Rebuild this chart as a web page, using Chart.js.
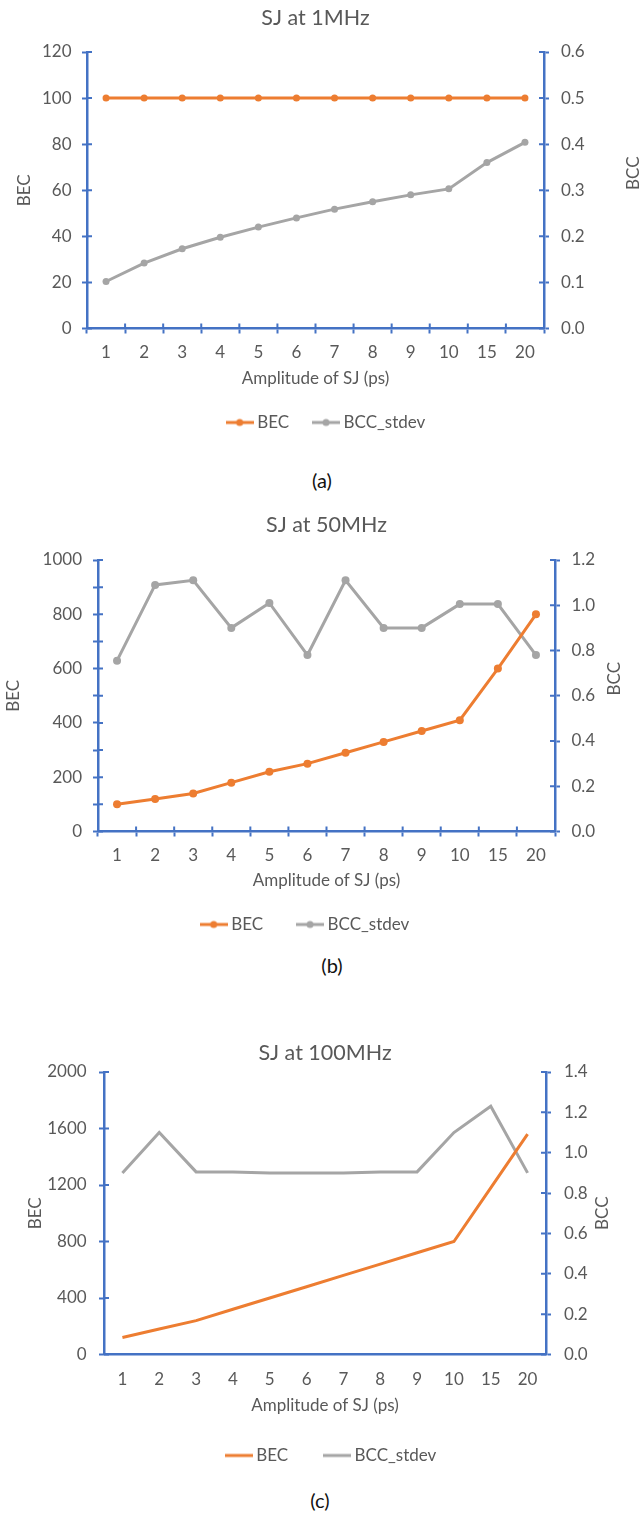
<!DOCTYPE html>
<html>
<head>
<meta charset="utf-8">
<script src="https://cdn.jsdelivr.net/npm/chart.js@4"></script>
<style>
  body { margin:0; background:#fff; width:641px; height:1515px; position:relative; font-family:Lato, sans-serif; }
  canvas { position:absolute; left:0; }
  .cap { position:absolute; width:100px; text-align:center; font-size:20px; line-height:22px; color:#111; }
</style>
</head>
<body>
<canvas id="chartA" width="641" height="441" style="top:0"></canvas>
<canvas id="chartB" width="641" height="443" style="top:500px"></canvas>
<canvas id="chartC" width="641" height="474" style="top:1000px"></canvas>
<div class="cap" style="left:272px;top:469px">(a)</div>
<div class="cap" style="left:282px;top:954px">(b)</div>
<div class="cap" style="left:270px;top:1489px">(c)</div>
<script>
const labels = ["1","2","3","4","5","6","7","8","9","10","15","20"];

// SJ at 1MHz
const becA = [100,100,100,100,100,100,100,100,100,100,100,100];
const bccA = [0.102,0.142,0.173,0.198,0.22,0.24,0.259,0.275,0.29,0.303,0.36,0.404];
// SJ at 50MHz
const becB = [100,120,140,180,220,250,290,330,370,410,600,800];
const bccB = [0.755,1.09,1.11,0.9,1.01,0.78,1.11,0.9,0.9,1.005,1.005,0.78];
// SJ at 100MHz
const becC = [120,180,240,320,400,480,560,640,720,800,1180,1560];
const bccC = [0.9,1.1,0.905,0.905,0.9,0.9,0.9,0.905,0.905,1.1,1.23,0.9];

const ORANGE = "#ED7D31", GREY = "#A5A5A5", BLUE = "#4472C4", TXT = "#595959";

Chart.defaults.font.family = "Lato";
Chart.defaults.font.size = 17;
Chart.defaults.color = TXT;

// inner half of the axis ticks + right axis title reading upwards
const axisExtras = {
  id: "axisExtras",
  beforeDatasetsDraw(chart, args, opts){
    const ctx = chart.ctx, len = 5;
    ctx.save();
    ctx.strokeStyle = BLUE; ctx.lineWidth = 2;
    ctx.beginPath();
    (opts.cross || []).forEach(id=>{
      const s = chart.scales[id];
      if(s.isHorizontal()){
        for(let i=0;i<=s.ticks.length;i++){
          const x = s.getPixelForValue(i-0.5);
          ctx.moveTo(x, s.top); ctx.lineTo(x, s.top-len);
        }
      } else {
        s.ticks.forEach(t=>{
          const y = s.getPixelForValue(t.value);
          if(s.position==="left"){ ctx.moveTo(s.right,y); ctx.lineTo(s.right+len,y); }
          else { ctx.moveTo(s.left,y); ctx.lineTo(s.left-len,y); }
        });
      }
    });
    ctx.stroke();
    if(opts.rightTitle){
      const a = chart.chartArea;
      ctx.fillStyle = TXT;
      ctx.font = "17px Lato";
      ctx.textAlign = "center"; ctx.textBaseline = "middle";
      ctx.translate(opts.rightX, (a.top+a.bottom)/2 + (opts.dy||0));
      ctx.rotate(-Math.PI/2);
      ctx.fillText(opts.rightTitle, 0, 0);
    }
    ctx.restore();
  }
};

function legendIcon(color, dot){
  const c = document.createElement("canvas");
  c.width = 28; c.height = 10;
  const g = c.getContext("2d");
  g.strokeStyle = color; g.lineWidth = 3;
  g.beginPath(); g.moveTo(0,5); g.lineTo(28,5); g.stroke();
  if(dot){ g.fillStyle = color; g.beginPath(); g.arc(14,5,3.5,0,Math.PI*2); g.fill(); }
  return c;
}

function makeChart(id, cfg){
  const ticksGrid = (show)=>({drawOnChartArea:false, drawTicks:true, tickLength:5, tickWidth:2,
    color: show ? BLUE : "rgba(0,0,0,0)", tickColor: show ? BLUE : "rgba(0,0,0,0)"});
  const border = {display:true, color:BLUE, width:2.5};
  return new Chart(document.getElementById(id), {
    type: "line",
    data: {
      labels,
      datasets: [
        {label:"BEC", data:cfg.bec, yAxisID:"y", borderColor:ORANGE, backgroundColor:ORANGE,
         borderWidth:3, pointRadius:cfg.dot, pointBackgroundColor:ORANGE, pointBorderColor:ORANGE, pointBorderWidth:0, order:1},
        {label:"BCC_stdev", data:cfg.bcc, yAxisID:"y1", borderColor:GREY, backgroundColor:GREY,
         borderWidth:3, pointRadius:cfg.dot, pointBackgroundColor:GREY, pointBorderColor:GREY, pointBorderWidth:0, order:2}
      ]
    },
    options: {
      responsive:false, animation:false,
      layout:{padding:{left:cfg.padL, right:cfg.padR, top:0, bottom:0}},
      scales: {
        x: {
          offset:true,
          grid: Object.assign(ticksGrid(cfg.xTicks), {offset:true}),
          border,
          ticks:{padding:cfg.xPad, maxRotation:0},
          title:{display:true, text:"Amplitude of SJ (ps)", padding:{top:0, bottom:cfg.xTitlePb}},
          afterFit: s=>{ s.height = cfg.xH; }
        },
        y: {
          position:"left", min:0, max:cfg.yMax,
          grid: ticksGrid(true), border,
          ticks:{stepSize:cfg.yStep, padding:cfg.yPad,
                 callback: v => (v % cfg.yLabelStep === 0 ? v : "")},
          title:{display:true, text:"BEC", padding:{top:cfg.yTitlePt, bottom:0}},
          afterFit: s=>{ s.width = cfg.yW; }
        },
        y1: {
          position:"right", min:0, max:cfg.y1Max,
          grid: ticksGrid(true), border,
          ticks:{stepSize:cfg.y1Step, padding:cfg.y1Pad, callback: v => Number(v).toFixed(1)},
          afterFit: s=>{ s.width = cfg.y1W; }
        }
      },
      plugins: {
        title:{display:true, text:cfg.title, fullSize:false, font:{size:21.5, weight:"normal"}, color:TXT,
               padding:{top:cfg.tPt, bottom:cfg.tPb}},
        legend:{
          position:"bottom",
          labels:{
            usePointStyle:true, pointStyleWidth:18, padding:cfg.legPad, color:TXT,
            generateLabels: chart => chart.data.datasets.map((ds,i)=>({
              text: ds.label, datasetIndex:i, hidden:false, lineWidth:0,
              fillStyle: ds.borderColor, strokeStyle: ds.borderColor, fontColor: TXT,
              pointStyle: legendIcon(ds.borderColor, cfg.dot > 0)
            }))
          }
        },
        tooltip:{enabled:false},
        axisExtras:{cross: cfg.cross, rightTitle:"BCC", rightX:cfg.rightX, dy:cfg.rightDy}
      }
    },
    plugins:[axisExtras]
  });
}

makeChart("chartA", {
  title:"SJ at 1MHz", bec:becA, bcc:bccA, dot:3.5,
  padL:15, padR:0, yW:72, y1W:97, yPad:10.5, y1Pad:12, yTitlePt:-0.7,
  yMax:120, yStep:20, yLabelStep:20, y1Max:0.6, y1Step:0.1,
  tPt:5.1, tPb:21.1, xH:57.5, xPad:8.8, xTitlePb:-2.7, legPad:28, xTicks:true,
  cross:["x","y","y1"], rightX:634, rightDy:-17
});

makeChart("chartB", {
  title:"SJ at 50MHz", bec:becB, bcc:bccB, dot:4,
  padL:0, padR:27, yW:98, y1W:59, yPad:11, y1Pad:11.5, yTitlePt:3.8,
  yMax:1000, yStep:100, yLabelStep:200, y1Max:1.2, y1Step:0.2,
  tPt:12.1, tPb:22.1, xH:46.5, xPad:8.8, xTitlePb:-12.7, legPad:38, xTicks:true,
  cross:["x","y","y1"], rightX:615, rightDy:-17
});

makeChart("chartC", {
  title:"SJ at 100MHz", bec:becC, bcc:bccC, dot:0,
  padL:25, padR:0, yW:79, y1W:95, yPad:12.3, y1Pad:13, yTitlePt:0.8,
  yMax:2000, yStep:400, yLabelStep:400, y1Max:1.4, y1Step:0.2,
  tPt:40.1, tPb:6.1, xH:52.5, xPad:9.8, xTitlePb:-8.7, legPad:40, xTicks:false,
  cross:["y","y1"], rightX:603, rightDy:0
});
</script>
</body>
</html>
